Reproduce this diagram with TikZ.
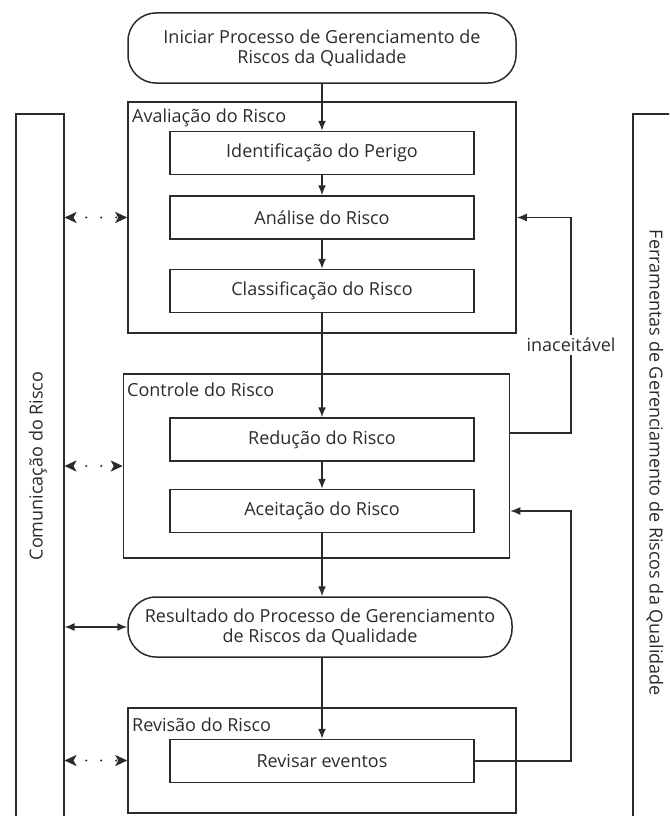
\documentclass[tikz,border=0pt]{standalone}
\usepackage{fontspec}
\setmainfont{Open Sans}
\usetikzlibrary{arrows.meta,calc}
\definecolor{ink}{HTML}{2B2B2B}
\begin{document}
\begin{tikzpicture}[x=1pt,y=-1pt,
  line/.style={draw=ink, line width=1.5pt},
  txt/.style={text=ink, font=\fontsize{18}{20.5}\selectfont},
  stepbox/.style={line, txt, rectangle, minimum width=304pt, minimum height=43pt, inner sep=0pt},
  groupbox/.style={line, rectangle, inner sep=0pt},
  grouplabel/.style={txt, anchor=west, inner sep=0pt},
  term/.style={line, txt, rectangle, rounded corners=28pt, inner sep=0pt, align=center},
  sidebox/.style={line, rectangle, inner sep=0pt, minimum width=48pt, minimum height=800pt},
  arr/.style={line, -{Latex[length=10pt,width=8pt]}},
  dbl/.style={line, {Latex[length=10pt,width=8pt]}-{Latex[length=10pt,width=8pt]}},
  dotdbl/.style={line, line width=2.4pt, line cap=round,
    {Stealth[length=12pt,width=11pt,inset=3pt]}-{Stealth[length=12pt,width=11pt,inset=3pt]},
    dash pattern=on 0pt off 15pt, dash phase=1.5pt},
]
\useasboundingbox (0,0) rectangle (669,816);
\clip (0,0) rectangle (669,816);

% side boxes
\node[sidebox, anchor=north west] (comm) at (15,113) {};
\node[sidebox, anchor=north west] (tools) at (632,113) {};
\node[txt, rotate=90] (commtxt) at (38,466) {Comunicação do Risco};
\node[txt, rotate=-90] (toolstxt) at (655,463) {Ferramentas de Gerenciamento de Riscos da Qualidade};

% start
\node[term, minimum width=388pt, minimum height=70pt] (start) at (322,48)
  {Iniciar Processo de Gerenciamento de\\Riscos da Qualidade};

% Avaliacao
\node[groupbox, minimum width=388pt, minimum height=231pt] (aval) at (322,217.5) {};
\node[grouplabel] (avallab) at (132,118) {Avaliação do Risco};
\node[stepbox] (ident) at (322,153) {Identificação do Perigo};
\node[stepbox] (anal) at (322,217.5) {Análise do Risco};
\node[stepbox] (class) at (322,291) {Classificação do Risco};

% Controle
\node[groupbox, minimum width=386pt, minimum height=184pt] (ctrl) at (316.5,466) {};
\node[grouplabel] (ctrllab) at (127,390) {Controle do Risco};
\node[stepbox] (red) at (322,439.5) {Redução do Risco};
\node[stepbox] (acc) at (322,511) {Aceitação do Risco};

% Resultado
\node[term, minimum width=384pt, minimum height=60pt] (res) at (320,627)
  {Resultado do Processo de Gerenciamento\\de Riscos da Qualidade};

% Revisao
\node[groupbox, minimum width=388pt, minimum height=105pt] (rev) at (322,760.5) {};
\node[grouplabel] (revlab) at (132,725) {Revisão do Risco};
\node[stepbox] (revev) at (322,761) {Revisar eventos};

% main flow
\draw[arr] (start.south -| ident.north) -- (ident.north);
\draw[arr] (ident) -- (anal);
\draw[arr] (anal) -- (class);
\draw[arr] (class) -- (red);
\draw[arr] (red) -- (acc);
\draw[arr] (acc.south) -- (acc.south |- res.north);
\draw[arr] (res.south -| revev.north) -- (revev.north);

% feedback loops
\coordinate (fb1) at ($(ctrl.east |- red.east)+(0,-6.5)$);
\coordinate (fbx) at (571,0);
\draw[arr] (fb1) -- (fb1 -| fbx) -- (fbx |- anal.east) -- (anal.east -| aval.east);
\node[txt, fill=white, inner sep=3pt] (inac) at (571,345) {inaceitável};
\draw[arr] (revev.east) -- (revev.east -| fbx) -- (fbx |- acc.east) -- (acc.east -| ctrl.east);

% communication arrows
\draw[dotdbl] (comm.east |- aval.west) -- (aval.west);
\draw[dotdbl] (comm.east |- ctrl.west) -- (ctrl.west);
\draw[dbl] (comm.east |- res.west) -- (res.west);
\draw[dotdbl] (comm.east |- rev.west) -- (rev.west);
\end{tikzpicture}
\end{document}
